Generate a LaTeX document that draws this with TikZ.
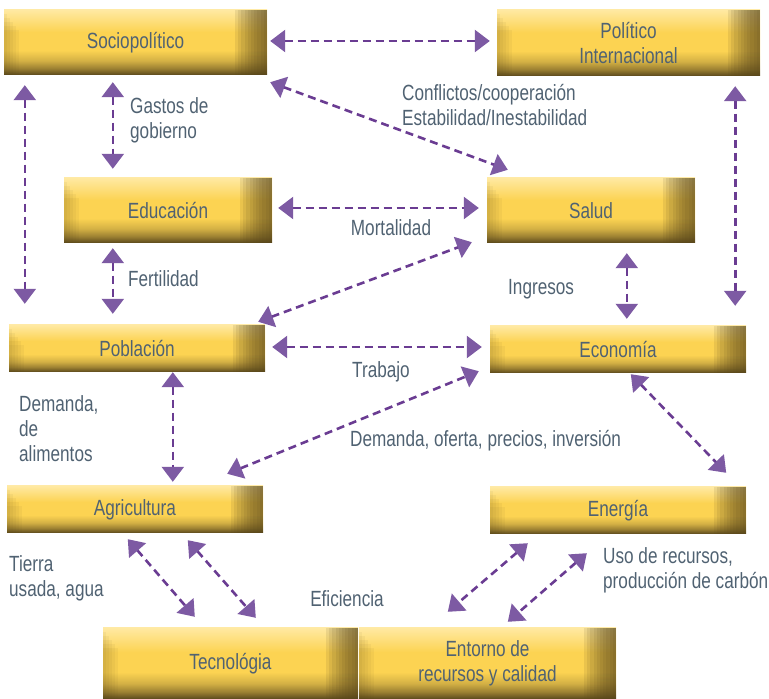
\documentclass[tikz,border=0pt]{standalone}
\usepackage{fontspec}
\setmainfont{Liberation Sans}[FakeStretch=0.78]
\usetikzlibrary{arrows.meta,calc}
\definecolor{gLight}{HTML}{FFE9A2}
\definecolor{gMid}{HTML}{FCD352}
\definecolor{gDark}{HTML}{5A481C}
\definecolor{lineP}{HTML}{6A3C92}
\definecolor{headP}{HTML}{7D5AA3}
\definecolor{txt}{HTML}{506272}
\pgfdeclareverticalshading{goldv}{100bp}{color(0bp)=(gDark); color(25bp)=(gDark); color(30bp)=(gDark!60!gMid); color(36bp)=(gMid!75!gDark); color(44bp)=(gMid); color(58bp)=(gMid); color(75bp)=(gLight); color(100bp)=(gLight)}
\tikzset{
  gbox/.style={fill=gMid, inner sep=0pt, text=txt, align=center,
    font=\fontsize{22}{25}\selectfont,
    path picture={
      \shade[shading=goldv] (path picture bounding box.south west) rectangle (path picture bounding box.north east);
      \foreach \k in {1,...,10}{
        \fill[gDark, fill opacity=0.11] ([xshift={-3.2pt*\k}]path picture bounding box.north east) rectangle (path picture bounding box.south east);
      }
      \foreach \k in {1,...,5}{
        \fill[gDark, fill opacity=0.05] ([xshift={3pt*\k}]path picture bounding box.south west) rectangle ([yshift={-4pt*\k}]path picture bounding box.north west);
      }
    }},
  lbl/.style={inner sep=0pt, text=txt, align=left, font=\fontsize{22}{25}\selectfont},
  arr/.style={draw=lineP, line width=2.6pt, dash pattern=on 8pt off 5pt,
    {Triangle[length=15pt,width=22pt,color=headP]}-{Triangle[length=15pt,width=22pt,color=headP]}}
}
\begin{document}
\begin{tikzpicture}[x=1pt,y=1pt]
\useasboundingbox (0,0) rectangle (769,699);
% boxes
\node[gbox, minimum width=263pt, minimum height=65pt] (soc) at (135.5,656.5) {Sociopolítico};
\node[gbox, minimum width=263pt, minimum height=66pt] (pol) at (628.5,656) {Político\\Internacional};
\node[gbox, minimum width=208pt, minimum height=65pt] (edu) at (168,488.5) {Educación};
\node[gbox, minimum width=208pt, minimum height=65pt] (sal) at (591,488.5) {Salud};
\node[gbox, minimum width=256pt, minimum height=47pt] (pob) at (137,350.5) {Población};
\node[gbox, minimum width=256pt, minimum height=47pt] (eco) at (618,349.5) {Economía};
\node[gbox, minimum width=256pt, minimum height=47pt] (agr) at (135,189.5) {Agricultura};
\node[gbox, minimum width=256pt, minimum height=47pt] (ene) at (618,188.5) {Energía};
\node[gbox, minimum width=255pt, minimum height=71pt] (tec) at (230.5,35.5) {Tecnológia};
\node[gbox, minimum width=257pt, minimum height=71pt] (ent) at (487.5,35.5) {Entorno de\\recursos y calidad};
% labels
\node[lbl, anchor=west] (l1) at (130,579) {Gastos de\\gobierno};
\node[lbl, anchor=west] (l2) at (402,594) {Conflictos/cooperación\\Estabilidad/Inestabilidad};
\node[lbl] (l3) at (391,471) {Mortalidad};
\node[lbl, anchor=west] (l4) at (128,420) {Fertilidad};
\node[lbl, anchor=west] (l5) at (508,410) {Ingresos};
\node[lbl] (l6) at (381,327) {Trabajo};
\node[lbl, anchor=west] (l7) at (19,270) {Demanda,\\de\\alimentos};
\node[lbl, anchor=west] (l8) at (350,258) {Demanda, oferta, precios, inversión};
\node[lbl, anchor=west] (l9) at (9,120.5) {Tierra\\usada, agua};
\node[lbl] (l10) at (347,100) {Eficiencia};
\node[lbl, anchor=west] (l11) at (603,129) {Uso de recursos,\\producción de carbón};
% connectors
\draw[arr] ($(soc.east)+(3,1.5)$) -- ($(pol.west)+(-7,2)$);
\draw[arr] ($(soc.south west)+(21,-10)$) -- ($(pob.north west)+(16,21)$);
\draw[arr] ($(soc.south west)+(109,-7)$) -- ($(edu.north west)+(49,9)$);
\draw[arr] ($(soc.south east)+(3,-7)$) -- ($(sal.north west)+(21,8)$);
\draw[arr] ($(edu.east)+(6,2.5)$) -- ($(sal.west)+(-8,2.5)$);
\draw[arr] ($(edu.south west)+(49,-5)$) -- ($(pob.north west)+(104,11)$);
\draw[arr] ($(pob.north east)+(-7,3)$) -- ($(sal.south west)+(-15,1)$);
\draw[arr] ($(sal.south west)+(140,-10)$) -- ($(eco.north west)+(137,7)$);
\draw[arr] ($(pol.south east)+(-25,-10)$) -- ($(eco.north east)+(-11,20)$);
\draw[arr] ($(pob.east)+(7,1.5)$) -- ($(eco.west)+(-8,2.5)$);
\draw[arr] ($(agr.north east)+(-36,12)$) -- ($(eco.south west)+(-11,2)$);
\draw[arr] ($(pob.south west)+(164,0)$) -- ($(agr.north west)+(166,4)$);
\draw[arr] ($(eco.south west)+(141,-1)$) -- ($(ene.north east)+(-20,14)$);
\draw[arr] ($(agr.south west)+(121,-6)$) -- ($(tec.north west)+(92,11)$);
\draw[arr] ($(agr.south west)+(181,-7)$) -- ($(tec.north west)+(153,10)$);
\draw[arr] ($(ene.south west)+(38,-9)$) -- ($(ent.north west)+(89,16)$);
\draw[arr] ($(ene.south west)+(97,-19)$) -- ($(ent.north west)+(149,6)$);
\end{tikzpicture}
\end{document}
